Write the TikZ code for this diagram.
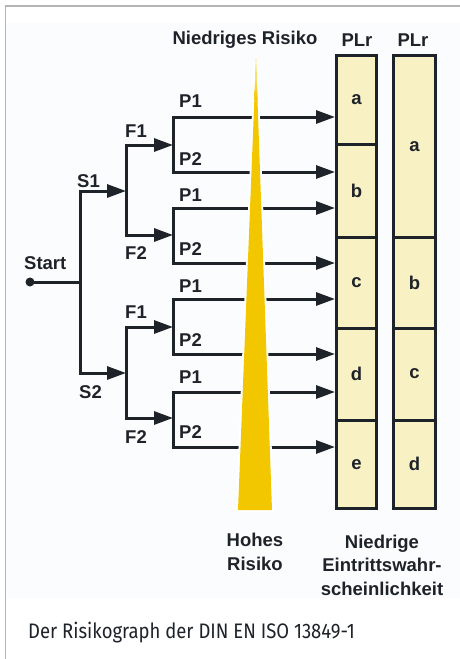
\documentclass[tikz,border=0pt]{standalone}
\usepackage{fontspec}
\setmainfont{Liberation Sans}
\newfontfamily\capfont{Fira Sans}
\usetikzlibrary{arrows.meta,calc}

\definecolor{ink}{HTML}{1E2329}
\definecolor{cellfill}{HTML}{F8F1C4}
\definecolor{gold}{HTML}{F2C700}
\definecolor{framegray}{HTML}{B4B4B4}
\definecolor{panel}{HTML}{FBFCFD}

\tikzset{
  lbl/.style={font=\fontsize{18.5}{22}\selectfont\bfseries, text=ink, inner sep=0pt},
  wire/.style={draw=ink, line width=3pt, line join=miter},
  arr/.style={wire, -{Triangle[length=19pt,width=13pt]}},
  cell/.style={draw=ink, fill=cellfill, line width=3pt, inner sep=0pt,
               font=\fontsize{18.5}{22}\selectfont\bfseries, text=ink},
}

\begin{document}
\begin{tikzpicture}[x=1pt,y=-1pt]
\useasboundingbox (0,0) rectangle (460,659);
\fill[white] (0,0) rectangle (460,659);
\fill[panel] (6,23) rectangle (460,598);
% frame lines on top and left
\draw[framegray, line width=1.5pt] (5.5,659) -- (5.5,6) -- (460,6);

% risk level columns
\node[cell, minimum width=40pt, minimum height=88.5pt] (ca) at (356.5,99.75) {a};
\node[cell, minimum width=40pt, minimum height=93pt]   (cb) at (356.5,190.5) {b};
\node[cell, minimum width=40pt, minimum height=91pt]   (cc) at (356.5,282.5) {c};
\node[cell, minimum width=40pt, minimum height=92pt]   (cd) at (356.5,374) {d};
\node[cell, minimum width=40pt, minimum height=88.5pt] (ce) at (356.5,464.25) {e};

\node[cell, minimum width=42pt, minimum height=181.5pt] (da) at (414.5,146.25) {a};
\node[cell, minimum width=42pt, minimum height=91pt]    (db) at (414.5,282.5) {b};
\node[cell, minimum width=42pt, minimum height=92pt]    (dc) at (414.5,374) {c};
\node[cell, minimum width=42pt, minimum height=88.5pt]  (dd) at (414.5,464.25) {d};

% junction points
\coordinate (start) at (30,282);
\coordinate (j0) at (80,282);
\coordinate (s1) at (126,191);
\coordinate (s2) at (126,373);
\coordinate (f11) at (173,145);
\coordinate (f12) at (173,235);
\coordinate (f21) at (173,327);
\coordinate (f22) at (173,418);
\coordinate (p1) at (173,117);
\coordinate (p2) at (173,172);
\coordinate (p3) at (173,208);
\coordinate (p4) at (173,263);
\coordinate (p5) at (173,299);
\coordinate (p6) at (173,354);
\coordinate (p7) at (173,392);
\coordinate (p8) at (173,447);

% tree
\draw[wire] (start) -- (j0);
\fill[ink] (start) circle (4.5pt);
\draw[arr] (j0) |- (s1);
\draw[arr] (j0) |- (s2);
\draw[arr] (s1) |- (f11);
\draw[arr] (s1) |- (f12);
\draw[arr] (s2) |- (f21);
\draw[arr] (s2) |- (f22);
\draw[arr] (f11) -- (p1) -- (p1 -| ca.west);
\draw[arr] (f11) -- (p2) -- (p2 -| cb.west);
\draw[arr] (f12) -- (p3) -- (p3 -| cb.west);
\draw[arr] (f12) -- (p4) -- (p4 -| cc.west);
\draw[arr] (f21) -- (p5) -- (p5 -| cc.west);
\draw[arr] (f21) -- (p6) -- (p6 -| cd.west);
\draw[arr] (f22) -- (p7) -- (p7 -| cd.west);
\draw[arr] (f22) -- (p8) -- (p8 -| ce.west);

% risk wedge, cut out of the wires by a white rim
\draw[white, line width=4pt, line join=miter] (256,62) -- (272,510) -- (238,510) -- cycle;
\fill[gold] (256,58) -- (272,510) -- (238,510) -- cycle;
\shade[top color=gold!15, bottom color=gold] (256,56) -- (257.6,100) -- (254.4,100) -- cycle;

% branch labels
\node[lbl, anchor=west] (tstart) at (24,263) {Start};
\node[lbl, anchor=west] (ts1) at (77,181) {S1};
\node[lbl, anchor=west] (ts2) at (79,392) {S2};
\node[lbl, anchor=west] (tf1a) at (125,131) {F1};
\node[lbl, anchor=west] (tf2a) at (125,253) {F2};
\node[lbl, anchor=west] (tf1b) at (125,312) {F1};
\node[lbl, anchor=west] (tf2b) at (125,437) {F2};
\node[lbl, anchor=west] (tp1) at (179,101) {P1};
\node[lbl, anchor=west] (tp2) at (179,159) {P2};
\node[lbl, anchor=west] (tp3) at (179,195) {P1};
\node[lbl, anchor=west] (tp4) at (179,249) {P2};
\node[lbl, anchor=west] (tp5) at (179,286) {P1};
\node[lbl, anchor=west] (tp6) at (179,340) {P2};
\node[lbl, anchor=west] (tp7) at (179,377) {P1};
\node[lbl, anchor=west] (tp8) at (179,432) {P2};

% headings
\node[lbl] (tlow) at (245,40) {Niedriges Risiko};
\node[lbl] (tplr1) at (357,40) {PLr};
\node[lbl] (tplr2) at (413,40) {PLr};
\node[lbl, align=center, font=\fontsize{18.5}{23.5}\selectfont\bfseries] (thigh) at (255,552) {Hohes\\Risiko};
\node[lbl, align=center, font=\fontsize{18.5}{23.5}\selectfont\bfseries] (tprob) at (382,565) {Niedrige\\Eintrittswahr-\\scheinlichkeit};

% caption
\node[anchor=west, inner sep=0pt, text=ink] (cap) at (28,633)
  {\scalebox{0.88}[1]{\capfont\fontsize{21}{24}\selectfont Der Risikograph der DIN EN ISO 13849-1}};
\end{tikzpicture}
\end{document}
